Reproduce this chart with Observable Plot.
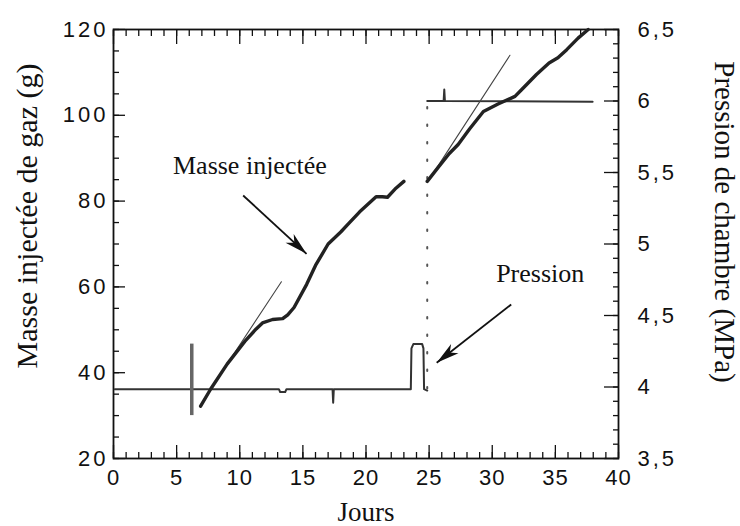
<!DOCTYPE html>
<html>
<head>
<meta charset="utf-8">
<script src="https://cdn.jsdelivr.net/npm/d3@7"></script>
<script src="https://cdn.jsdelivr.net/npm/@observablehq/plot@0.6"></script>
<style>
  body { margin: 0; background: #fff; }
  g[aria-label="y-axis tick label"] text { letter-spacing: 3px; }
  g[aria-label="x-axis tick label"] text { letter-spacing: 1px; }
</style>
</head>
<body>
<div id="chart"></div>
<script>
// ---- data (days, grams / MPa) ----
const masseT1 = [6.9, 7.7, 9.0, 10.4, 11.3, 11.8, 12.6, 13.4, 13.8, 14.3, 15.3, 16.0, 17.0, 18.0, 18.6, 19.5, 20.8, 21.3, 21.7, 22.3, 23.0];
const masseG1 = [32.2, 36.2, 42.0, 47.3, 50.2, 51.6, 52.4, 52.6, 53.5, 55.2, 60.6, 65.0, 70.0, 72.8, 74.7, 77.5, 81.0, 81.0, 80.9, 82.8, 84.6];
const masseT2 = [24.85, 25.7, 26.6, 27.3, 28.2, 29.3, 30.5, 31.8, 32.3, 33.5, 34.5, 35.2, 35.9, 36.8, 37.6];
const masseG2 = [84.6, 87.8, 91.1, 93.2, 96.8, 100.9, 102.7, 104.4, 105.9, 109.5, 112.2, 113.4, 115.3, 118.0, 120.0];

const tangent1T = [7.5, 13.3];
const tangent1G = [35.3, 61.2];
const tangent2T = [25.0, 31.4];
const tangent2G = [85.0, 114.0];

const pres1T = [0.1, 6.1, 6.3, 13.1, 13.2, 13.6, 13.7, 17.35, 17.4, 17.45, 23.55, 23.6, 23.75, 24.45, 24.55, 24.6, 24.85];
const pres1P = [3.985, 3.985, 3.985, 3.985, 3.965, 3.965, 3.985, 3.985, 3.89, 3.985, 3.985, 4.27, 4.30, 4.30, 4.27, 3.985, 3.975];
const pres2T = [24.85, 26.15, 26.2, 26.25, 37.95];
const pres2P = [6.0, 6.0, 6.08, 6.0, 5.995];
const spikeT = [6.2];
const spikeLowP = [3.80];
const spikeHighP = [4.30];
const dottedT = [24.85, 24.85];
const dottedP = [3.99, 6.0];

// annotations
const noteText = ["Masse injectée", "Pression"];
const noteT = [10.8, 33.8];
const noteG = [88.2, 63.0];
const arrowTailT = [10.27, 31.5];
const arrowTailG = [81.3, 55.9];
const arrowTipT = [15.29, 25.6];
const arrowTipG = [67.7, 42.3];

// axes
const xMajor = [0, 5, 10, 15, 20, 25, 30, 35, 40];
const xLabels = ["0", "5", "10", "15", "20", "25", "30", "35", "40"];
const xMinor = d3.range(0, 41, 1);
const gMajor = [20, 40, 60, 80, 100, 120];
const gLabels = ["20", "40", "60", "80", "100", "120"];
const gMinor = d3.range(20, 121, 5);
const pMajor = [3.5, 4, 4.5, 5, 5.5, 6, 6.5];
const pLabels = ["3,5", "4", "4,5", "5", "5,5", "6", "6,5"];
const pMinor = d3.range(35, 66).map(d => d / 10);

const xTitle = "Jours";
const yTitle = "Masse injectée de gaz (g)";
const y2Title = "Pression de chambre (MPa)";

// ---- build ----
const W = 740, H = 526, ML = 113, MR = 122, MT = 29, MB = 68;
const toG = p => 20 + (p - 3.5) * 100 / 3;
const serif = "'Liberation Serif', 'Times New Roman', serif";

const masse1 = masseT1.map((t, i) => ({t, g: masseG1[i]}));
const masse2 = masseT2.map((t, i) => ({t, g: masseG2[i]}));
const tan1 = tangent1T.map((t, i) => ({t, g: tangent1G[i]}));
const tan2 = tangent2T.map((t, i) => ({t, g: tangent2G[i]}));
const pres1 = pres1T.map((t, i) => ({t, g: toG(pres1P[i])}));
const pres2 = pres2T.map((t, i) => ({t, g: toG(pres2P[i])}));
const spikes = spikeT.map((t, i) => ({t, lo: toG(spikeLowP[i]), hi: toG(spikeHighP[i])}));
const dotted = dottedT.map((t, i) => ({t, g: toG(dottedP[i])}));
const notes = noteText.map((s, i) => ({s, t: noteT[i], g: noteG[i]}));

const pxT = (W - ML - MR) / 40, pxG = (H - MT - MB) / 100;
const arrows = arrowTailT.map((t, i) => {
  const dx = (arrowTipT[i] - t) * pxT, dy = -(arrowTipG[i] - arrowTailG[i]) * pxG;
  return {t1: t, g1: arrowTailG[i], t2: arrowTipT[i], g2: arrowTipG[i],
          angle: Math.atan2(dx, -dy) * 180 / Math.PI};
});
const arrowHead = {
  draw(context, size) {
    const s = Math.sqrt(size / Math.PI);
    const L = 2.3 * s, w = 0.6 * s;
    context.moveTo(0, 0);
    context.lineTo(w, L);
    context.lineTo(0, L * 0.72);
    context.lineTo(-w, L);
    context.closePath();
  }
};
const pIndex = d => pLabels[d3.minIndex(pMajor, p => Math.abs(toG(p) - d))];

const chart = Plot.plot({
  width: W, height: H,
  marginLeft: ML, marginRight: MR, marginTop: MT, marginBottom: MB,
  x: {domain: [0, 40]},
  y: {domain: [20, 120]},
  style: {fontFamily: "'Liberation Sans', Arial, sans-serif", fontSize: "22px", color: "#111", background: "#fff", overflow: "visible"},
  marks: [
    // ticks (inward)
    Plot.axisX(xMinor, {anchor: "bottom", tickSize: -6, fill: "none", label: null, strokeWidth: 1.3}),
    Plot.axisX(xMajor, {anchor: "bottom", tickSize: -13, fill: "none", label: null, strokeWidth: 1.3}),
    Plot.axisX(xMinor, {anchor: "top", tickSize: -6, fill: "none", label: null, strokeWidth: 1.3}),
    Plot.axisX(xMajor, {anchor: "top", tickSize: -14, fill: "none", label: null, strokeWidth: 1.3}),
    Plot.axisY(gMinor, {anchor: "left", tickSize: -6, fill: "none", label: null, strokeWidth: 1.3}),
    Plot.axisY(gMajor, {anchor: "left", tickSize: -12, fill: "none", label: null, strokeWidth: 1.3}),
    Plot.axisY(pMinor.map(toG), {anchor: "right", tickSize: -6, fill: "none", label: null, strokeWidth: 1.3}),
    Plot.axisY(pMajor.map(toG), {anchor: "right", tickSize: -15, fill: "none", label: null, strokeWidth: 1.3}),
    // tick labels
    Plot.axisX(xMajor, {anchor: "bottom", tickSize: 0, tickPadding: 11, label: null, fontSize: 22, tickFormat: d => xLabels[xMajor.indexOf(d)]}),
    Plot.axisY(gMajor, {anchor: "left", tickSize: 0, tickPadding: 5, label: null, fontSize: 22, tickFormat: d => gLabels[gMajor.indexOf(d)]}),
    Plot.axisY(pMajor.map(toG), {anchor: "right", tickSize: 0, tickPadding: 19, label: null, fontSize: 22, tickFormat: pIndex}),
    Plot.frame({stroke: "#111", strokeWidth: 1.8}),
    // pressure
    Plot.line(pres1, {x: "t", y: "g", stroke: "#333", strokeWidth: 2, strokeLinejoin: "round"}),
    Plot.line(pres2, {x: "t", y: "g", stroke: "#333", strokeWidth: 2, strokeLinejoin: "round"}),
    Plot.ruleX(spikes, {x: "t", y1: "lo", y2: "hi", stroke: "#666", strokeWidth: 3.5}),
    Plot.line(dotted, {x: "t", y: "g", stroke: "#555", strokeWidth: 2, strokeDasharray: "1.5,16", strokeLinecap: "round"}),
    // tangents
    Plot.line(tan1, {x: "t", y: "g", stroke: "#444", strokeWidth: 1.1}),
    Plot.line(tan2, {x: "t", y: "g", stroke: "#444", strokeWidth: 1.1}),
    // mass
    Plot.line(masse1, {x: "t", y: "g", stroke: "#222", strokeWidth: 3.4, strokeLinejoin: "round", strokeLinecap: "round"}),
    Plot.line(masse2, {x: "t", y: "g", stroke: "#222", strokeWidth: 3.4, strokeLinejoin: "round", strokeLinecap: "round"}),
    // annotations
    Plot.link(arrows, {x1: "t1", y1: "g1", x2: "t2", y2: "g2", stroke: "#111", strokeWidth: 1.8}),
    Plot.dot(arrows, {x: "t2", y: "g2", r: 10, symbol: arrowHead, rotate: "angle", fill: "#111", stroke: "none"}),
    Plot.text(notes, {x: "t", y: "g", text: "s", fontFamily: serif, fontSize: 26, fill: "#111"}),
    // titles
    Plot.text([yTitle], {text: d => d, frameAnchor: "left", textAnchor: "middle", lineAnchor: "middle", rotate: -90, dx: -86, dy: -28, fontFamily: serif, fontSize: 30, fill: "#111"}),
    Plot.text([y2Title], {text: d => d, frameAnchor: "right", textAnchor: "middle", lineAnchor: "middle", rotate: 90, dx: 106, dy: -22, fontFamily: serif, fontSize: 29, fill: "#111"}),
    Plot.text([xTitle], {text: d => d, frameAnchor: "bottom", textAnchor: "middle", lineAnchor: "middle", dy: 54, fontFamily: serif, fontSize: 27, fill: "#111"})
  ]
});
document.getElementById("chart").appendChild(chart);
</script>
</body>
</html>
